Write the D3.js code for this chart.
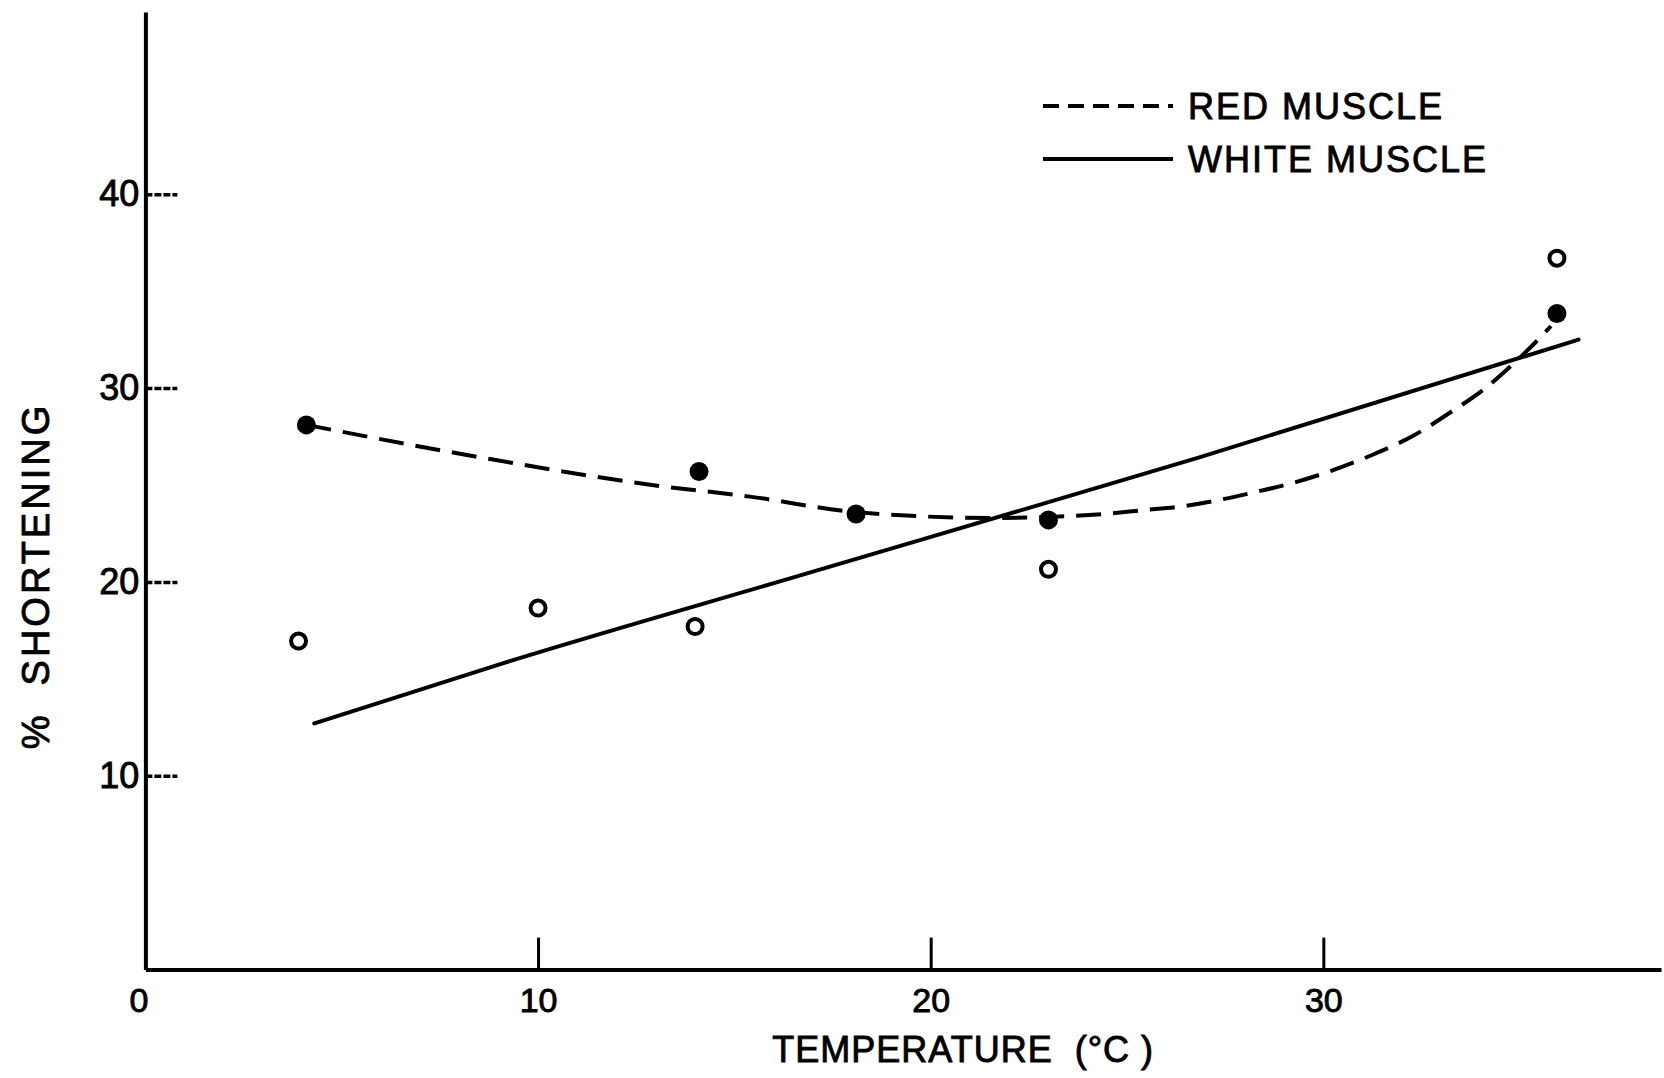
<!DOCTYPE html>
<html>
<head>
<meta charset="utf-8">
<script src="https://cdn.jsdelivr.net/npm/d3@7"></script>
<style>
  html, body { margin: 0; padding: 0; background: #fff; }
  svg { display: block; }
  .axis text, .label {
    font-family: 'Liberation Sans', Arial, sans-serif;
    fill: #000;
    stroke: #000;
    stroke-width: 0.9px;
  }
</style>
</head>
<body>
<div id="chart"></div>
<script>
// observed points, temperature (°C) vs % shortening
const redX = [4.1, 14.1, 18.1, 23.0, 35.95];
const redY = [28.1, 25.7, 23.5, 23.2, 33.85];
const whiteX = [3.9, 10.0, 14.0, 23.0, 35.95];
const whiteY = [16.95, 18.65, 17.7, 20.65, 36.7];

// hand-drawn fitted curves
const redCurveX = [4.1, 8.6, 12.9, 15.4, 18.1, 21.6, 23.0, 24.4, 25.4, 26.4, 27.4, 28.3, 29.3, 30.3, 31.3, 32.3, 33.2, 34.1, 34.7, 35.4, 35.8];
const redCurveY = [28.1, 26.4, 25.0, 24.4, 23.6, 23.3, 23.35, 23.5, 23.7, 23.9, 24.25, 24.65, 25.15, 25.8, 26.6, 27.55, 28.7, 29.95, 31.0, 32.35, 33.2];
const whiteCurveX = [4.3, 9.1, 16.7, 26.8, 36.5];
const whiteCurveY = [12.7, 15.8, 20.35, 26.4, 32.5];

const xTicks = [0, 10, 20, 30];
const yTicks = [10, 20, 30, 40];
const legendLabels = ['RED MUSCLE', 'WHITE MUSCLE'];
const legendDash = ['16 9', null];

const width = 1664, height = 1078;

const svg = d3.select('#chart').append('svg')
  .attr('width', width)
  .attr('height', height);

const x = d3.scaleLinear().domain([0, 38.6]).range([145.4, 1661]);
const y = d3.scaleLinear().domain([0, 49.4]).range([969.6, 12]);

// axes
const xAxis = svg.append('g')
  .attr('class', 'axis x-axis')
  .attr('transform', `translate(0,${y(0)})`)
  .call(d3.axisBottom(x).tickValues(xTicks).tickSize(-32).tickSizeOuter(0).tickPadding(18));

xAxis.selectAll('text')
  .attr('font-size', 34)
  .attr('dx', d => d === 0 ? -7 : 0);

const yAxis = svg.append('g')
  .attr('class', 'axis y-axis')
  .attr('transform', `translate(${x(0)},0)`)
  .call(d3.axisLeft(y).tickValues(yTicks).tickSize(-32).tickSizeOuter(0).tickPadding(6));

yAxis.selectAll('text')
  .attr('font-size', 36);

svg.selectAll('.axis .domain')
  .attr('stroke', '#000')
  .attr('stroke-width', 4);

xAxis.selectAll('.tick line')
  .attr('stroke', '#000')
  .attr('stroke-width', 3)
  .attr('opacity', d => d === 0 ? 0 : 1);

yAxis.selectAll('.tick line')
  .attr('stroke', '#000')
  .attr('stroke-width', 3.5)
  .attr('stroke-dasharray', '7 2');

// axis titles
svg.append('text')
  .attr('class', 'label')
  .attr('x', (x(0) + x(38.6)) / 2 + 60)
  .attr('y', 1062)
  .attr('text-anchor', 'middle')
  .attr('font-size', 36)
  .attr('letter-spacing', 1)
  .text('TEMPERATURE\u00a0\u00a0(°C )');

svg.append('text')
  .attr('class', 'label')
  .attr('transform', `translate(49,${y(20.3)}) rotate(-90)`)
  .attr('text-anchor', 'middle')
  .attr('font-size', 38)
  .attr('letter-spacing', 3)
  .text('%\u00a0\u00a0SHORTENING');

// curves
const line = d3.line()
  .x(d => x(d[0]))
  .y(d => y(d[1]))
  .curve(d3.curveMonotoneX);

svg.append('path')
  .datum(d3.zip(whiteCurveX, whiteCurveY))
  .attr('d', line)
  .attr('fill', 'none')
  .attr('stroke', '#000')
  .attr('stroke-width', 4)
  .attr('stroke-linecap', 'round');

svg.append('path')
  .datum(d3.zip(redCurveX, redCurveY))
  .attr('d', line)
  .attr('fill', 'none')
  .attr('stroke', '#000')
  .attr('stroke-width', 4)
  .attr('stroke-dasharray', '25 12');

// points
svg.append('g').selectAll('circle')
  .data(d3.zip(whiteX, whiteY))
  .enter().append('circle')
    .attr('cx', d => x(d[0]))
    .attr('cy', d => y(d[1]))
    .attr('r', 7.5)
    .attr('fill', '#fff')
    .attr('stroke', '#000')
    .attr('stroke-width', 4);

svg.append('g').selectAll('circle')
  .data(d3.zip(redX, redY))
  .enter().append('circle')
    .attr('cx', d => x(d[0]))
    .attr('cy', d => y(d[1]))
    .attr('r', 9.5)
    .attr('fill', '#000');

// legend
const legend = svg.append('g')
  .attr('transform', 'translate(1043,106)');

const rows = legend.selectAll('g')
  .data(legendLabels)
  .enter().append('g')
    .attr('transform', (d, i) => `translate(0,${i * 53})`);

rows.append('line')
  .attr('x1', 0)
  .attr('x2', 130)
  .attr('stroke', '#000')
  .attr('stroke-width', 4)
  .attr('stroke-dasharray', (d, i) => legendDash[i]);

rows.append('text')
  .attr('class', 'label')
  .attr('x', 145)
  .attr('y', 13)
  .attr('font-size', 36)
  .attr('letter-spacing', 2)
  .text(d => d);
</script>
</body>
</html>
